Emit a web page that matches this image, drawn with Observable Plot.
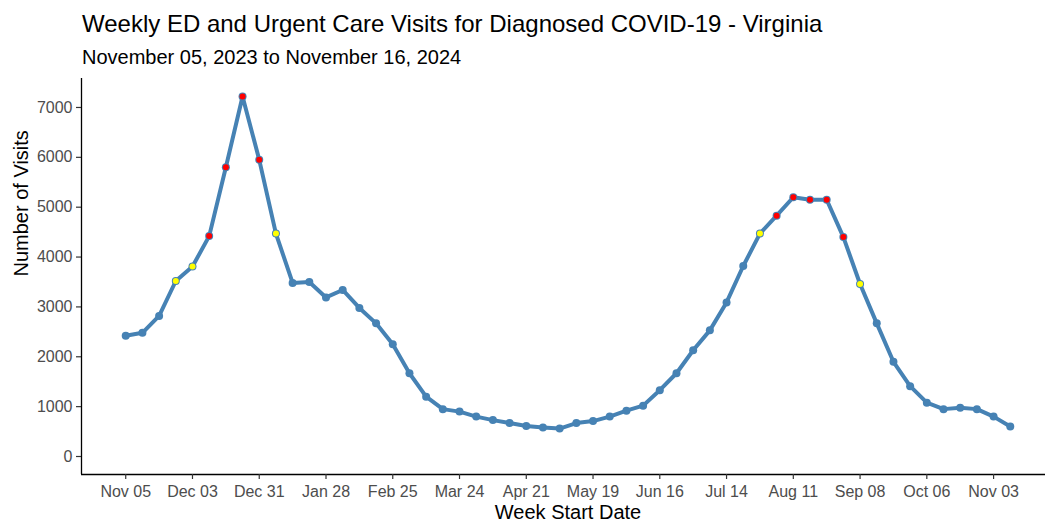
<!DOCTYPE html>
<html>
<head>
<meta charset="utf-8">
<script src="https://cdn.jsdelivr.net/npm/d3@7"></script>
<script src="https://cdn.jsdelivr.net/npm/@observablehq/plot@0.6"></script>
<style>
  html, body { margin: 0; padding: 0; background: #fff; overflow: hidden; }
  body { width: 1045px; height: 523px; font-family: "Liberation Sans", Arial, sans-serif; }
  #header { position: relative; height: 70px; }
  #title { position: absolute; left: 82px; top: 12px; font-size: 24px; line-height: 1; color: #000; white-space: nowrap; }
  #subtitle { position: absolute; left: 82px; top: 47px; font-size: 20px; line-height: 1; color: #000; white-space: nowrap; }
  #chart { width: 1045px; overflow: hidden; }
  #chart svg { display: block; max-width: none !important; }
</style>
</head>
<body>
<div id="header">
  <div id="title">Weekly ED and Urgent Care Visits for Diagnosed COVID-19 - Virginia</div>
  <div id="subtitle">November 05, 2023 to November 16, 2024</div>
</div>
<div id="chart"></div>
<script>
const weekStart = [
  "2023-11-05","2023-11-12","2023-11-19","2023-11-26","2023-12-03","2023-12-10","2023-12-17","2023-12-24","2023-12-31",
  "2024-01-07","2024-01-14","2024-01-21","2024-01-28","2024-02-04","2024-02-11","2024-02-18","2024-02-25",
  "2024-03-03","2024-03-10","2024-03-17","2024-03-24","2024-03-31","2024-04-07","2024-04-14","2024-04-21","2024-04-28",
  "2024-05-05","2024-05-12","2024-05-19","2024-05-26","2024-06-02","2024-06-09","2024-06-16","2024-06-23","2024-06-30",
  "2024-07-07","2024-07-14","2024-07-21","2024-07-28","2024-08-04","2024-08-11","2024-08-18","2024-08-25",
  "2024-09-01","2024-09-08","2024-09-15","2024-09-22","2024-09-29","2024-10-06","2024-10-13","2024-10-20","2024-10-27",
  "2024-11-03","2024-11-10"
];
const visits = [
  2420, 2480, 2820, 3520, 3810, 4420, 5800, 7220, 5950,
  4470, 3480, 3500, 3190, 3340, 2980, 2670, 2250,
  1670, 1200, 950, 900, 800, 730, 670, 610, 580,
  560, 670, 710, 800, 920, 1020, 1330, 1670, 2130,
  2530, 3090, 3820, 4470, 4830, 5200, 5150, 5150,
  4400, 3460, 2670, 1900, 1410, 1080, 950, 980, 950,
  800, 600
];
const alertLevel = [
  "none","none","none","yellow","yellow","red","red","red","red",
  "yellow","none","none","none","none","none","none","none",
  "none","none","none","none","none","none","none","none","none",
  "none","none","none","none","none","none","none","none","none",
  "none","none","none","yellow","red","red","red","red",
  "red","yellow","none","none","none","none","none","none","none",
  "none","none"
];
const xTickLabels = ["2023-11-05","2023-12-03","2023-12-31","2024-01-28","2024-02-25","2024-03-24","2024-04-21",
  "2024-05-19","2024-06-16","2024-07-14","2024-08-11","2024-09-08","2024-10-06","2024-11-03"];
const yTicks = [0, 1000, 2000, 3000, 4000, 5000, 6000, 7000];
const alertColors = {yellow: "#FFFF00", red: "#FF0000"};

const data = weekStart.map((d, i) => ({date: new Date(d + "T00:00:00Z"), value: visits[i], level: alertLevel[i]}));
const flagged = data.filter(d => d.level !== "none");

// ggplot-style 5% expansion
const t0 = data[0].date.getTime(), t1 = data[data.length - 1].date.getTime();
const padX = (t1 - t0) * 0.05;
const xDomain = [new Date(t0 - padX), new Date(t1 + padX)];
const yMax = d3.max(visits);
const padY = yMax * 0.05;
const yDomain = [-padY, yMax + padY];

const xTicks = xTickLabels.map(d => new Date(d + "T00:00:00Z"));
const fmt = d3.utcFormat("%b %d");

const chart = Plot.plot({
  width: 1054,
  height: 453,
  marginLeft: 81,
  marginRight: 0,
  marginTop: 8,
  marginBottom: 49,
  style: {fontFamily: "'Liberation Sans', Arial, sans-serif", background: "#fff", maxWidth: "none"},
  x: {type: "utc", domain: xDomain},
  y: {domain: yDomain},
  marks: [
    Plot.ruleY([yDomain[0]], {stroke: "#000", strokeWidth: 1.3}),
    Plot.ruleX([xDomain[0]], {stroke: "#000", strokeWidth: 1.3}),
    Plot.axisX({ticks: xTicks, tickSize: 5, tickFormat: () => "", color: "#333", label: null, strokeWidth: 1.2}),
    Plot.axisX({ticks: xTicks, tickSize: 0, tickPadding: 11, tickFormat: fmt, color: "#4d4d4d", fontSize: 16, label: null}),
    Plot.axisY({ticks: yTicks, tickSize: 5, tickFormat: () => "", color: "#333", label: null, strokeWidth: 1.2}),
    Plot.axisY({ticks: yTicks, tickSize: 0, tickPadding: 9, tickFormat: d => String(d), color: "#4d4d4d", fontSize: 16, label: null}),
    Plot.text(["Week Start Date"], {frameAnchor: "bottom", dy: 38, fontSize: 20, fill: "#000", lineAnchor: "middle"}),
    Plot.text(["Number of Visits"], {frameAnchor: "left", dx: -60, rotate: -90, fontSize: 20, fill: "#000"}),
    Plot.line(data, {x: "date", y: "value", stroke: "#4682B4", strokeWidth: 4, strokeLinejoin: "round"}),
    Plot.dot(data, {x: "date", y: "value", r: 4, fill: "#4682B4", stroke: "none"}),
    Plot.dot(flagged, {x: "date", y: "value", r: 3, fill: d => alertColors[d.level], stroke: "none"})
  ]
});
document.getElementById("chart").appendChild(chart);
</script>
</body>
</html>
